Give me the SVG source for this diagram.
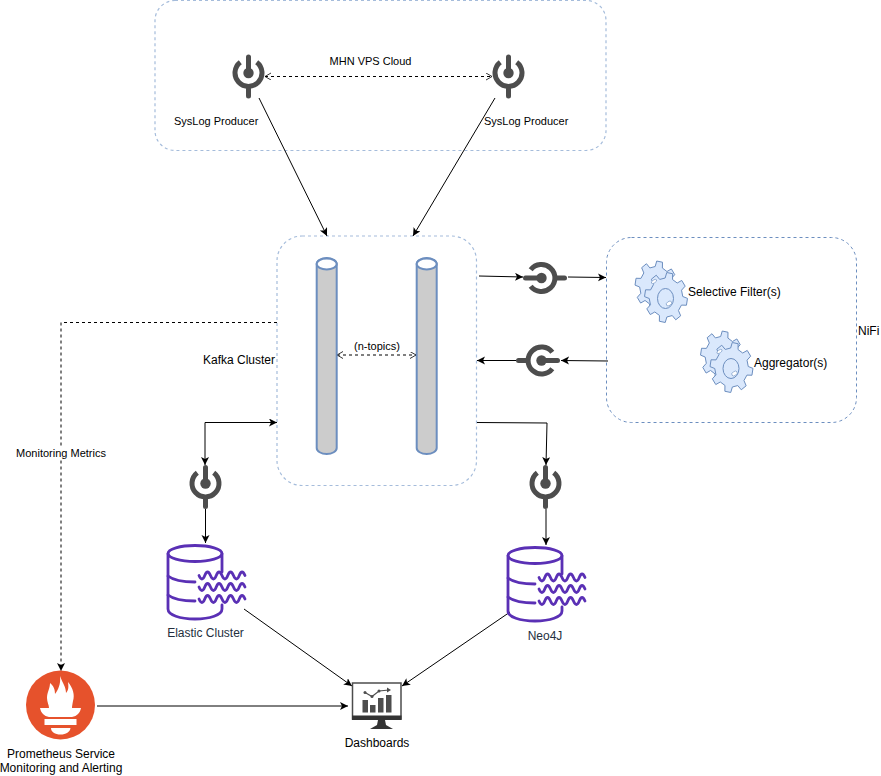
<svg xmlns="http://www.w3.org/2000/svg" width="881" height="776" viewBox="0 0 881 776">
<style>
text{font-family:"Liberation Sans",Arial,sans-serif;font-size:11px;fill:#000}
.l{font-size:12px}
.c{stroke:#000;stroke-width:1;fill:none}
.d{stroke-dasharray:3 3}
.a{marker-end:url(#arr)}
.o{marker-end:url(#open);marker-start:url(#open)}
.box{fill:#fff;stroke:#6c8ebf;stroke-width:1;stroke-dasharray:3 3}
.pale{stroke:#a5bcdb;stroke-width:1.2}
.plug{fill:none;stroke:#4d4d4d;stroke-width:5;stroke-linecap:round}
.cyl{fill:#ccc;stroke:#6c8ebf;stroke-width:2}
.gear{fill:#dae8fc;stroke:#6c8ebf;stroke-width:1;vector-effect:non-scaling-stroke}
.db{fill:none;stroke:#5a30b5;stroke-width:2.8;stroke-linecap:round}
</style>
<defs>
<marker id="arr" markerUnits="userSpaceOnUse" markerWidth="10" markerHeight="10" refX="8" refY="4" orient="auto-start-reverse"><path d="M0 0L8 4L0 8L2 4Z" fill="#000"/></marker>
<marker id="open" markerUnits="userSpaceOnUse" markerWidth="10" markerHeight="10" refX="6" refY="3.5" orient="auto-start-reverse"><path d="M0 0L6 3.5L0 7" fill="none" stroke="#000" stroke-width=".8"/></marker>
<g id="plug">
<path class="plug" d="M0 -16V0"/>
<circle cx="0" cy="0" r="5.2" fill="#4d4d4d"/>
<path class="plug" style="stroke-linecap:butt" d="M-8.2 -10.8A13.5 13.5 0 1 0 8.2 -10.8"/>
<path class="plug" d="M0 14V23"/>
</g>
<polygon id="gearshape" class="gear" points="76,-17.5 99,-13.9 99,13.9 76,17.5 66.1,41.3 79.9,60.2 60.2,79.9 41.3,66.1 17.5,76 13.9,99 -13.9,99 -17.5,76 -41.3,66.1 -60.2,79.9 -79.9,60.2 -66.1,41.3 -76,17.5 -99,13.9 -99,-13.9 -76,-17.5 -66.1,-41.3 -79.9,-60.2 -60.2,-79.9 -41.3,-66.1 -17.5,-76 -13.9,-99 13.9,-99 17.5,-76 41.3,-66.1 60.2,-79.9 79.9,-60.2 66.1,-41.3"/>
<g id="gears">
<use href="#gearshape" transform="translate(-10,-11.500) scale(.21,.25) rotate(10)"/>
<use href="#gearshape" transform="scale(.215,.25) rotate(10)"/>
<ellipse cx="-12" cy="-16" rx="3" ry="1.500" fill="#fff" stroke="#6c8ebf" stroke-width=".6" transform="rotate(-35 -12 -16)"/>
<ellipse cx="-.500" cy="1" rx="8" ry="10" fill="#dae8fc" stroke="#6c8ebf"/>
<ellipse cx="3" cy="6" rx="3" ry="2" fill="#fff" stroke="#6c8ebf" stroke-width=".6" transform="rotate(-35 3 6)"/>
</g>
<g id="cylshape">
<path class="cyl" d="M0 6A10 6 0 0 1 20 6V190A10 6 0 0 1 0 190Z"/>
<ellipse class="cyl" style="fill:#fff" cx="10" cy="6" rx="10" ry="5.500"/>
</g>
<g id="dbshape">
<ellipse class="db" cx="27" cy="8.500" rx="27" ry="8"/>
<path class="db" d="M54 9V27M0 9V64C0 70 12 74 27 74C42 74 54 70 54 64V60"/>
<path class="db" d="M0 31C5 35 14 37 27 37M0 50C5 54 14 56 27 56"/>
<path class="db" d="M31 30.500q3 7 5.750 0t5.750 0t5.750 0t5.750 0t5.750 0t5.750 0t5.750 0t5.750 0"/>
<path class="db" d="M31 42q3 7 5.750 0t5.750 0t5.750 0t5.750 0t5.750 0t5.750 0t5.750 0t5.750 0"/>
<path class="db" d="M31 54q3 7 5.750 0t5.750 0t5.750 0t5.750 0t5.750 0t5.750 0t5.750 0t5.750 0"/>
</g>
</defs>
<rect width="881" height="776" fill="#fff"/>
<g id="cloud"><rect x="155" y="0.500" width="451" height="150" rx="20" class="box pale"/><text x="370.500" y="65" text-anchor="middle">MHN VPS Cloud</text></g>
<g id="kafka"><rect x="277" y="236" width="199.500" height="249.500" rx="25" class="box pale"/><text x="275" y="364" text-anchor="end" class="l">Kafka Cluster</text></g>
<g id="nifi"><rect x="606.500" y="237.500" width="250" height="185" rx="25" class="box"/><text x="858" y="335" class="l">NiFi</text></g>
<g id="connectors">
<path class="c a" d="M259 98L327 236"/>
<path class="c a" d="M495 98L413 236"/>
<path class="c d o" d="M265 76.500H492"/>
<path class="c d o" d="M337 355H416"/>
<path class="c a" d="M479 276L523 277"/>
<path class="c a" d="M568 277L606 277.500"/>
<path class="c a" d="M608 361L561 360.500"/>
<path class="c a" d="M516 360.500H477"/>
<path class="c a" style="marker-start:url(#arr)" d="M277 422.500H205V465"/>
<path class="c a" d="M205.500 509V543"/>
<path class="c a" d="M477 422.500L547 423L546 465"/>
<path class="c a" d="M546 509V545"/>
<path class="c a" d="M244 609L352 686"/>
<path class="c a" d="M510 612L402 686"/>
<path class="c a" d="M97 706H348"/>
<path class="c d a" d="M277 322.500H61V671"/>
<rect x="15" y="446" width="93" height="14" fill="#fff"/>
<text x="61" y="457" text-anchor="middle">Monitoring Metrics</text>
</g>
<g id="syslog1"><use href="#plug" transform="translate(248.500,73)"/><text x="174" y="125">SysLog Producer</text></g>
<g id="syslog2"><use href="#plug" transform="translate(508.500,73)"/><text x="484" y="125">SysLog Producer</text></g>
<g id="topic1"><use href="#cylshape" x="316.700" y="258"/></g>
<g id="topic2"><use href="#cylshape" x="416.700" y="258"/><text x="377" y="350" text-anchor="middle">(n-topics)</text></g>
<g id="consumer1"><use href="#plug" transform="translate(541.500,278) rotate(-90)"/></g>
<g id="consumer2"><use href="#plug" transform="translate(541.500,360.500) rotate(90)"/></g>
<g id="consumer3"><use href="#plug" transform="translate(205.500,483.500)"/></g>
<g id="consumer4"><use href="#plug" transform="translate(545.500,483.500)"/></g>
<g id="filter"><use href="#gears" transform="translate(666,297.500)"/><text x="688" y="296" class="l">Selective Filter(s)</text></g>
<g id="aggregator"><use href="#gears" transform="translate(731.500,367.500)"/><text x="754" y="367" class="l">Aggregator(s)</text></g>
<g id="elastic"><use href="#dbshape" x="168" y="545"/><text x="205.500" y="637" text-anchor="middle" class="l" style="fill:#232f3e">Elastic Cluster</text></g>
<g id="neo4j"><use href="#dbshape" x="508" y="547"/><text x="545" y="640" text-anchor="middle" class="l" style="fill:#232f3e">Neo4J</text></g>
<g id="prometheus">
<circle cx="60.500" cy="705" r="34.500" fill="#e6522c"/>
<path fill="#fff" d="M60 676C63 684 66 687 66 693C69 690 68.500 686 68 682C73 688 75 695 73 701C72.500 704 72 706 72 708H81C80 713 77 716 72 717H49C44 716 41 713 40 708H49C49 705 47 702 47 698C47 692 50 689 50 683C54 686 55 690 55 694C58 690 61 684 60 676Z"/>
<rect x="44.500" y="719" width="32" height="6" fill="#fff"/>
<path fill="#fff" d="M51 728H70.500C70 732 66 734.500 60.500 734.500S51 732 51 728Z"/>
<text x="61" y="758" text-anchor="middle" class="l">Prometheus Service</text>
<text x="61" y="772" text-anchor="middle" class="l">Monitoring and Alerting</text>
</g>
<g id="dashboards">
<rect x="352.500" y="683" width="48.500" height="36" fill="#fff" stroke="#4d4d4d" stroke-width="1.500"/>
<rect x="352" y="715.500" width="49.500" height="4.500" fill="#333"/>
<path fill="#333" d="M378 720H385L386 725L393 729H370L377 725Z"/>
<g fill="#4d4d4d"><rect x="362.500" y="700" width="5.500" height="12.500"/><rect x="370" y="705" width="5.500" height="7.500"/><rect x="378" y="698" width="5.500" height="14.500"/><rect x="386" y="695" width="5.500" height="17.500"/></g>
<path d="M365 692.500L372 696.500L379 691L389 690" fill="none" stroke="#4d4d4d" stroke-width="1.200"/>
<circle cx="365" cy="692.500" r="1.500" fill="#4d4d4d"/><circle cx="372" cy="696.500" r="1.500" fill="#4d4d4d"/><circle cx="379" cy="691" r="1.500" fill="#4d4d4d"/>
<path d="M387 687.500L391 690L387 692.500Z" fill="#4d4d4d"/>
<text x="377" y="747" text-anchor="middle" class="l">Dashboards</text>
</g>
</svg>
